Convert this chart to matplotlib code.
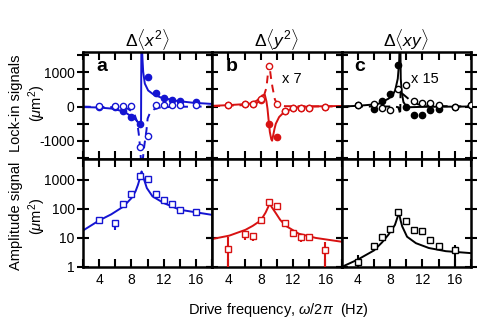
import matplotlib
matplotlib.use('Agg')
import matplotlib.pyplot as plt

plt.rcParams['font.family'] = ['Liberation Sans', 'DejaVu Sans']
plt.rcParams['mathtext.fontset'] = 'custom'
plt.rcParams['mathtext.rm'] = 'Liberation Sans'
plt.rcParams['mathtext.it'] = 'Liberation Sans:italic'
plt.rcParams['mathtext.bf'] = 'Liberation Sans:bold'

# ---------------- data ----------------
freq = [4, 6, 7, 8, 9, 10, 11, 12, 13, 14, 16]

# lock-in (top row)
a_filled = [0, -20, -140, -300, -505, 850, 400, 255, 185, 157, 137]
a_open = [5, 5, 15, 20, -1185, -850, 40, 50, 40, 40, 35]
b_filled = [30, 60, 70, 200, -500, -890, -130, -50, -40, -35, -10]
b_open = [44, 73, 80, 230, 1184, 60, -140, -55, -50, -40, -15]
c_freq = [4, 6, 7, 8, 9, 10, 11, 12, 13, 14, 16, 18]
c_filled = [30, -73, 150, 355, 1200, -15, -245, -245, -90, -73, -20, 40]
c_open = [44, 73, -30, -111, 500, 640, 170, 90, 110, 44, 0, 30]

# fit curves
a_sol_x = [2, 4, 5.5, 7, 8, 8.6, 8.95, 9.1, 9.18, 9.22, 9.3, 9.38, 9.45, 9.65, 10.06, 10.7, 11.7, 12.7, 13.6, 15.6, 18]
a_sol_y = [-15, -30, -60, -140, -290, -400, -500, -580, -600, 1700, 1700, 1300, 1010, 670, 470, 356, 257, 210, 165, 110, 75]
a_das_x = [2, 6, 7.5, 8.3, 8.7, 8.9, 9.1, 9.2, 9.35, 9.5, 9.7, 9.85, 10.0, 10.3, 10.8, 11.5, 13, 18]
a_das_y = [-5, -20, -60, -180, -450, -800, -1300, -1700, -1700, -1300, -950, -700, -350, -180, -80, -30, -10, 0]

b_sol_x = [2, 4, 6, 6.6, 7.5, 8.2, 8.5, 8.7, 8.83, 8.95, 9.12, 9.3, 9.4, 9.5, 9.7, 9.86, 10.27, 10.9, 11.9, 12.7, 15, 18]
b_sol_y = [20, 40, 70, 82, 170, 327, 340, 150, -64, -357, -745, -960, -1000, -880, -650, -503, -307, -160, -64, -15, 5, 15]
b_das_x = [2, 6, 7.5, 8.3, 8.7, 8.9, 9.0, 9.1, 9.25, 9.45, 9.75, 10.1, 11, 18]
b_das_y = [10, 40, 100, 250, 550, 1000, 1250, 1150, 860, 560, 200, 60, 10, 0]

c_sol_x = [2, 4, 6, 6.6, 7.8, 8.3, 8.63, 8.95, 9.05, 9.12, 9.17, 9.28, 9.32, 9.44, 9.65, 10.06, 10.5, 12, 18]
c_sol_y = [0, 20, 60, 82, 228, 330, 473, 813, 1100, 1300, 1700, 1700, 813, 424, 131, -15, -20, -10, 0]
c_das_x = [2, 8.5, 9.0, 9.15, 9.25, 9.3, 9.5, 10.0, 10.6, 11.5, 13, 18]
c_das_y = [0, 0, -20, -120, -250, 500, 380, 280, 160, 60, 15, 0]

# amplitude (bottom row)
amp_a = [40, 32, 150, 325, 1300, 1080, 320, 195, 146, 93, 81]
amp_a_lo = [33, 19, 140, 300, 1200, 1000, 300, 185, 138, 88, 76]
amp_a_hi = [48, 40, 160, 350, 1400, 1160, 340, 205, 154, 98, 86]
amp_b = [4.2, 14, 12, 40, 166, 121, 32, 15, 10.7, 10.7, 3.7]
amp_b_lo = [0.5, 8.7, 8, 37, 155, 113, 30, 10.7, 7.4, 8, 0.5]
amp_b_hi = [11, 17, 14, 43, 178, 130, 34, 16, 11.5, 11.5, 7]
amp_c = [1.5, 5.4, 10.5, 21, 77, 37, 19, 17, 8.7, 5.4, 3.9]
amp_c_lo = [0.93, 3.5, 10, 20, 73, 35, 18, 16, 8.3, 3.7, 0.5]
amp_c_hi = [2.6, 6, 11, 22, 81, 39, 20, 18, 9.1, 6.6, 5.8]

ampfit_a_x = [2, 4, 5.5, 7, 8, 8.5, 8.8, 9.1, 9.25, 9.35, 9.5, 9.9, 10.6, 12, 14, 16, 18]
ampfit_a_y = [18, 40, 65, 120, 235, 400, 670, 1300, 1940, 1500, 1140, 520, 270, 158, 93, 76, 62]
ampfit_b_x = [2, 4.1, 6.1, 7, 8, 8.6, 9.1, 9.4, 9.85, 10.4, 11.1, 12.7, 14.8, 18]
ampfit_b_y = [9.2, 12, 19, 26, 40, 75, 150, 110, 72, 42, 26, 14, 10, 7.4]
ampfit_c_x = [2, 4, 6, 7, 7.8, 8.6, 8.9, 9.1, 9.3, 9.5, 10.1, 11.2, 12.8, 14.9, 18]
ampfit_c_y = [1, 1.8, 3.7, 7, 13, 28, 50, 75, 40, 25, 11, 6.6, 4.5, 3.5, 3.0]

titles = [r'$\Delta\langle x^2\rangle$', r'$\Delta\langle y^2\rangle$', r'$\Delta\langle xy\rangle$']
letters = ['a', 'b', 'c']
scales = ['', 'x 7', 'x 15']
colors = ['#1414d2', '#d81212', '#000000']
xticks = [2, 4, 6, 8, 10, 12, 14, 16, 18]
xticklabels = ['', '4', '', '8', '', '12', '', '16', '']
lk_ticks = [-1500, -1000, -500, 0, 500, 1000, 1500]
lk_labels = ['', '-1000', '', '0', '', '1000', '']
amp_ticks = [1, 10, 100, 1000]
amp_labels = ['1', '10', '100', '1000']

# ---------------- figure ----------------
W, H = 486, 333
fig = plt.figure(figsize=(W / 100, H / 100), dpi=100)

x0, pw = 83, 129.3
ytop, ymid, ybot = 52, 159, 267

top_data = [
    (freq, a_filled, a_open, a_sol_x, a_sol_y, a_das_x, a_das_y),
    (freq, b_filled, b_open, b_sol_x, b_sol_y, b_das_x, b_das_y),
    (c_freq, c_filled, c_open, c_sol_x, c_sol_y, c_das_x, c_das_y),
]
bot_data = [
    (amp_a, amp_a_lo, amp_a_hi, ampfit_a_x, ampfit_a_y),
    (amp_b, amp_b_lo, amp_b_hi, ampfit_b_x, ampfit_b_y),
    (amp_c, amp_c_lo, amp_c_hi, ampfit_c_x, ampfit_c_y),
]


def style(ax):
    for s in ax.spines.values():
        s.set_linewidth(1.8)
    ax.tick_params(axis='x', which='both', direction='in', length=6, width=1.5,
                   top=True, bottom=True, labelsize=10, pad=4)
    ax.tick_params(axis='y', which='both', direction='inout', length=8, width=1.5,
                   left=True, right=True, labelsize=10, pad=2)
    ax.tick_params(axis='y', which='minor', left=False, right=False)
    ax.set_xlim(2, 18)
    ax.set_xticks(xticks)


for i in range(3):
    left = (x0 + i * pw) / W
    # top
    axt = fig.add_axes([left, 1 - ymid / H, pw / W, (ymid - ytop) / H])
    fx, fill, opn, sx, sy, dx, dy = top_data[i]
    c = colors[i]
    axt.plot(sx, sy, '-', color=c, lw=1.4, zorder=2)
    axt.plot(dx, dy, '--', color=c, lw=1.4, dashes=(4, 3), zorder=2)
    axt.plot(fx, fill, 'o', color=c, ms=4.5, mec=c, zorder=3)
    axt.plot(fx, opn, 'o', mfc='white', mec=c, mew=1.0, ms=4.5, zorder=4)
    style(axt)
    axt.set_ylim(-1535, 1594)
    axt.set_yticks(lk_ticks)
    axt.set_xticklabels([])
    if i == 0:
        axt.set_yticklabels(lk_labels)
    else:
        axt.set_yticklabels([])
    axt.set_title(titles[i], fontsize=12.5, pad=3)
    axt.text(0.1, 0.86, letters[i], transform=axt.transAxes, fontsize=14,
             fontweight='bold', va='center', ha='left')
    if scales[i]:
        axt.text(0.54, 0.745, scales[i], transform=axt.transAxes, fontsize=10.5,
                 va='center', ha='left')

    # bottom
    axb = fig.add_axes([left, 1 - ybot / H, pw / W, (ybot - ymid) / H])
    av, lo, hi, fxx, fyy = bot_data[i]
    axb.set_yscale('log')
    axb.plot(fxx, fyy, '-', color=c, lw=1.4, zorder=2)
    axb.vlines(freq, lo, hi, color=c, lw=1.5, zorder=3)
    axb.plot(freq, av, 's', mfc='white', mec=c, mew=1.0, ms=5, zorder=4)
    style(axb)
    axb.set_ylim(1, 5200)
    axb.set_yticks(amp_ticks)
    axb.yaxis.set_minor_locator(matplotlib.ticker.NullLocator())
    axb.set_xticklabels(xticklabels)
    if i == 0:
        axb.set_yticklabels(amp_labels)
    else:
        axb.set_yticklabels([])

fig.text(16 / W, 1 - 103 / H, 'Lock-in signals', rotation=90, ha='center', va='center', fontsize=10.5)
fig.text(37 / W, 1 - 103 / H, r'($\mu$m$^2$)', rotation=90, ha='center', va='center', fontsize=10.5)
fig.text(16 / W, 1 - 216 / H, 'Amplitude signal', rotation=90, ha='center', va='center', fontsize=10.5)
fig.text(37 / W, 1 - 216 / H, r'($\mu$m$^2$)', rotation=90, ha='center', va='center', fontsize=10.5)
fig.text(278 / W, 1 - 310 / H, r'Drive frequency, $\omega/2\pi$  (Hz)', ha='center', va='center', fontsize=10.5)

fig.savefig('out.png', dpi=100)
